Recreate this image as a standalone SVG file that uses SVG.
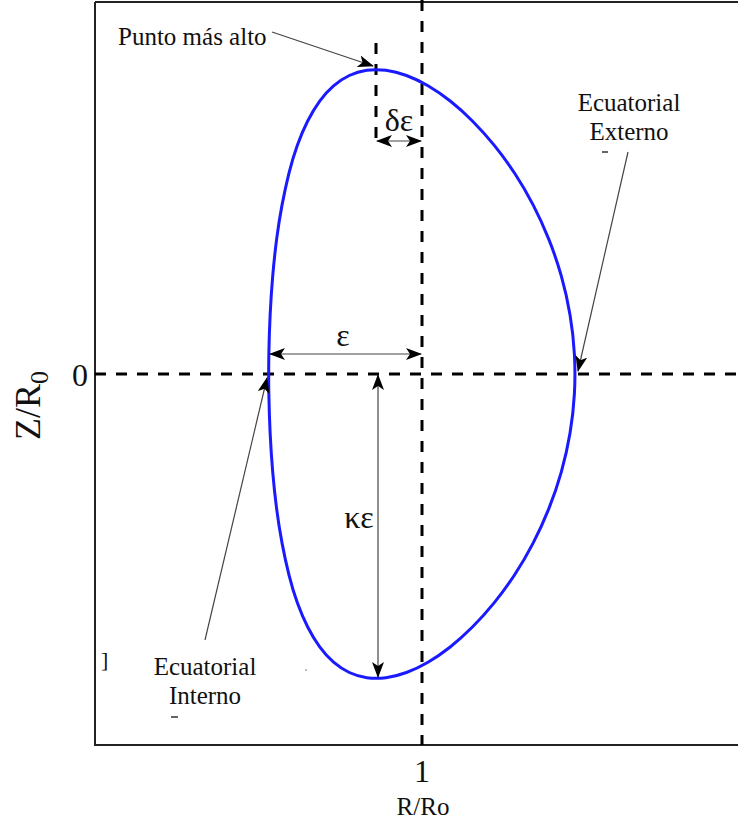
<svg xmlns="http://www.w3.org/2000/svg" width="738" height="831" viewBox="0 0 738 831">
<style>
.t{font-family:"Liberation Serif","Times New Roman",serif;fill:#111}
.dash{stroke:#000;stroke-width:3;stroke-dasharray:11 10;fill:none}
.ax{stroke:#222;stroke-width:2;fill:none}
.arr{stroke:#444;stroke-width:1.2;fill:none}
</style>
<defs>
<marker id="ah" viewBox="0 0 16 12" refX="15" refY="6" markerWidth="16" markerHeight="12" markerUnits="userSpaceOnUse" orient="auto-start-reverse">
<path d="M0,0 L16,6 L0,12 L4,6 Z" fill="#000"/>
</marker>
</defs>
<rect width="738" height="831" fill="#fff"/>
<g id="axes">
<path class="ax" d="M95,2 H738 M95,2 V745 H738 M422,745 V738"/>
<text class="t" x="88" y="386" font-size="32" text-anchor="end">0</text>
<text class="t" x="422" y="782" font-size="32" text-anchor="middle">1</text>
<text class="t" x="423" y="815" font-size="25" text-anchor="middle">R/Ro</text>
<text class="t" transform="translate(40,440) rotate(-90)" font-size="36">Z/R<tspan font-size="26" dy="8">0</tspan></text>
</g>
<g id="guides">
<path class="dash" d="M95,374 H738"/>
<path class="dash" d="M422,0 V745"/>
<path class="dash" d="M376,43 V142"/>
</g>
<g id="boundary">
<path fill="none" stroke="#1a1aff" stroke-width="3" d="M574.4,354.1 Q573.3,334.2 570.0,314.65 T561.35,276.2 T548.85,239.4 T533.1,204.9 T514.65,173.3 T494.1,145.15 T472.4,120.95 T450.2,101.05 T428.0,85.8 T406.45,75.5 T385.95,70.3 T366.8,70.3 T349.3,75.5 T333.55,85.8 T319.7,101.05 T307.7,120.95 T297.35,145.15 T288.9,173.3 T282.05,204.9 T276.6,239.4 T272.7,276.2 T270.15,314.65 T268.85,354.1 T268.85,393.9 T270.15,433.35 T272.7,471.8 T276.6,508.6 T282.05,543.1 T288.9,574.7 T297.35,602.85 T307.7,627.05 T319.7,646.95 T333.55,662.2 T349.3,672.5 T366.8,677.7 T385.95,677.7 T406.45,672.5 T428.0,662.2 T450.2,646.95 T472.4,627.05 T494.1,602.85 T514.65,574.7 T533.1,543.1 T548.85,508.6 T561.35,471.8 T570.0,433.35 T574.4,393.9 T574.4,354.1 Z"/>
</g>
<g id="connectors">
<line class="arr" x1="377" y1="141" x2="421" y2="141" marker-start="url(#ah)" marker-end="url(#ah)"/>
<line class="arr" x1="270" y1="354" x2="421" y2="354" marker-start="url(#ah)" marker-end="url(#ah)"/>
<line class="arr" x1="378" y1="375" x2="378" y2="677" marker-start="url(#ah)" marker-end="url(#ah)"/>
<line class="arr" x1="272" y1="32" x2="373" y2="66" marker-end="url(#ah)"/>
<line class="arr" x1="628" y1="152" x2="578" y2="371" marker-end="url(#ah)"/>
<line class="arr" x1="205" y1="640" x2="267" y2="378" marker-end="url(#ah)"/>
</g>
<g id="labels">
<text class="t" x="399" y="131" font-size="32" text-anchor="middle">δε</text>
<text class="t" x="343" y="346" font-size="32" text-anchor="middle">ε</text>
<text class="t" x="359" y="528" font-size="32" text-anchor="middle">κε</text>
<text class="t" x="118" y="45" font-size="25">Punto más alto</text>
<text class="t" x="629" y="111" font-size="25" text-anchor="middle">Ecuatorial</text>
<text class="t" x="629" y="140" font-size="25" text-anchor="middle">Externo</text>
<text class="t" x="205" y="675" font-size="25" text-anchor="middle">Ecuatorial</text>
<text class="t" x="205" y="704" font-size="25" text-anchor="middle">Interno</text>
<text class="t" x="101" y="667" font-size="22">]</text>
<path stroke="#333" stroke-width="1.5" d="M602,152 H608 M171,717 H178"/>
<circle cx="306" cy="670" r="0.8" fill="#666"/>
</g>
</svg>
